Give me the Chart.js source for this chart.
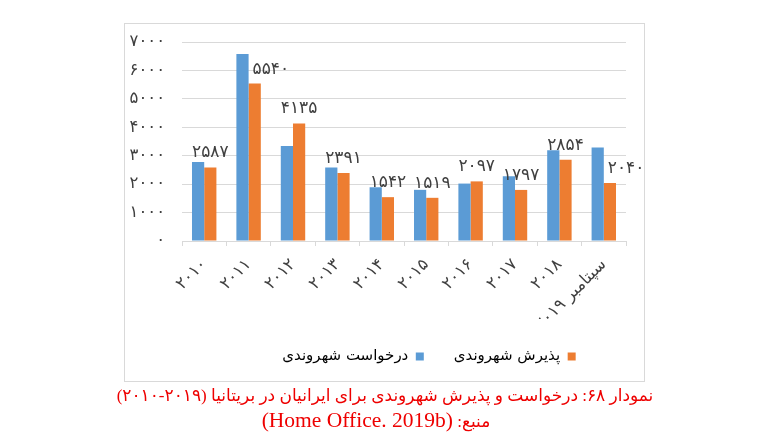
<!DOCTYPE html>
<html><head><meta charset="utf-8">
<script src="https://cdn.jsdelivr.net/npm/chart.js@4/dist/chart.umd.min.js"></script>
<style>
html,body{margin:0;padding:0;background:#fff;}
#wrap{position:relative;width:770px;height:440px;overflow:hidden;}
canvas{position:absolute;left:0;top:0;}
#cap{position:absolute;left:0;width:770px;top:383px;text-align:center;color:#ee0000;direction:rtl;font-family:"Liberation Serif","DejaVu Sans",serif;font-size:17px;line-height:25px;}
#cap .l2{padding-right:18px;}
#cap .lat{font-size:21.5px;}
#cap .ar2{font-size:17px;}
</style></head>
<body>
<div id="wrap"><canvas id="c" width="770" height="440"></canvas>
<div id="cap"><div>نمودار ۶۸: درخواست و پذیرش شهروندی برای ایرانیان در بریتانیا (۲۰۱۹-۲۰۱۰)</div><div class="l2"><span class="ar2">منبع:</span> <span class="lat">(Home Office. 2019b)</span></div></div></div>
<script>
const categories = ['۲۰۱۰','۲۰۱۱','۲۰۱۲','۲۰۱۳','۲۰۱۴','۲۰۱۵','۲۰۱۶','۲۰۱۷','۲۰۱۸','سپتامبر ۲۰۱۹'];
const applications = [2780, 6575, 3345, 2585, 1890, 1800, 2020, 2280, 3195, 3290];
const grants = [2587, 5540, 4135, 2391, 1542, 1519, 2097, 1797, 2854, 2040];
const seriesNames = ['درخواست شهروندی', 'پذیرش شهروندی'];
const yMin = 0, yMax = 7000, yStep = 1000;

const faDigits = '۰۱۲۳۴۵۶۷۸۹';
function toFa(n){ return String(n).replace(/[0-9]/g, d => faDigits[+d]); }

const FONT = '"DejaVu Sans", sans-serif';
const BLUE = '#5b9bd5', ORANGE = '#ed7d31', GRID = '#d9d9d9';

const framePlugin = {
  id: 'frame',
  beforeDraw(chart){
    const {ctx, chartArea:a} = chart;
    ctx.save();
    ctx.fillStyle = '#fff';
    ctx.fillRect(0,0,chart.width,chart.height);
    ctx.strokeStyle = GRID; ctx.lineWidth = 1;
    const l = Math.round(a.left - 58) + 0.5, t = Math.round(a.top - 19) + 0.5;
    const r = Math.round(a.right + 18) + 0.5, b = Math.round(a.bottom + 140) + 0.5;
    ctx.strokeRect(l, t, r - l, b - t);
    ctx.restore();
  }
};

const legendShift = {
  id: 'legendShift',
  afterLayout(chart){
    const lg = chart.legend;
    if (lg){ lg.left += 54; lg.right += 54; }
  }
};

const labelPlugin = {
  id: 'barLabels',
  afterDatasetsDraw(chart){
    const ctx = chart.ctx;
    const m0 = chart.getDatasetMeta(0), m1 = chart.getDatasetMeta(1);
    ctx.save();
    ctx.font = '17px ' + FONT;
    ctx.fillStyle = '#404040';
    ctx.textAlign = 'center';
    ctx.textBaseline = 'alphabetic';
    grants.forEach((v, i) => {
      const bar = m1.data[i], blue = m0.data[i];
      const txt = toFa(v);
      const w = ctx.measureText(txt).width;
      const bottom = bar.y - 10;
      const top = bottom - 12;
      let x = bar.x;
      if (blue.y < top) x = blue.x + blue.width / 2 + 4 + w / 2;
      ctx.fillText(txt, x, bottom);
    });
    ctx.restore();
  }
};

new Chart(document.getElementById('c'), {
  type: 'bar',
  data: {
    labels: categories,
    datasets: [
      {label: seriesNames[0], data: applications, backgroundColor: BLUE, barPercentage: 1, categoryPercentage: 0.55},
      {label: seriesNames[1], data: grants, backgroundColor: ORANGE, barPercentage: 1, categoryPercentage: 0.55}
    ]
  },
  options: {
    responsive: false, animation: false,
    layout: {padding: {left: 124, right: 144, top: 42, bottom: 66}},
    plugins: {
      legend: {position: 'bottom', rtl: true, reverse: true,
        labels: {boxWidth: 8, boxHeight: 8, padding: 30, color: '#000', font: {family: FONT, size: 15}}},
      tooltip: {enabled: false}
    },
    scales: {
      x: {
        grid: {display: true, drawOnChartArea: false, drawTicks: true, tickLength: 5, color: GRID, offset: true},
        border: {color: GRID},
        ticks: {minRotation: 45, maxRotation: 45, autoSkip: false, padding: 9, color: '#404040', font: {family: FONT, size: 16.5}},
        afterFit(s){ s.height = 78; }
      },
      y: {
        min: yMin, max: yMax,
        ticks: {stepSize: yStep, padding: 17, color: '#404040', font: {family: FONT, size: 16.5}, callback: v => toFa(v)},
        grid: {color: GRID, drawTicks: false},
        border: {display: false},
        afterFit(s){ s.width = 58; }
      }
    }
  },
  plugins: [framePlugin, legendShift, labelPlugin]
});
</script>
</body></html>
